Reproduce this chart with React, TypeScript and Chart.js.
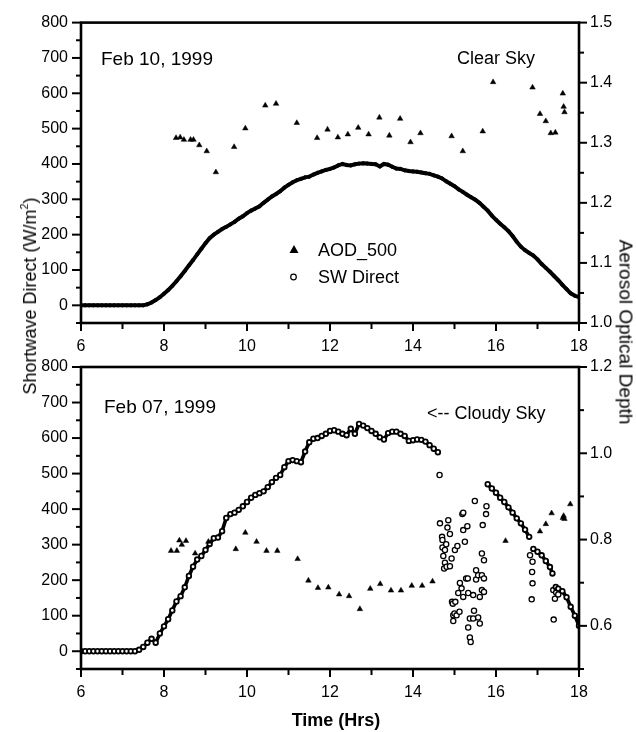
import React, { useEffect, useRef } from "react";
import { Chart, registerables } from "chart.js";

Chart.register(...registerables);

const FONT = "'Liberation Sans', Arial, Helvetica, sans-serif";

// ---------- Tick labels ----------
const hourLabels = [6, 8, 10, 12, 14, 16, 18];
const swLabels = [0, 100, 200, 300, 400, 500, 600, 700, 800];
const aodTopLabels = [1.0, 1.1, 1.2, 1.3, 1.4, 1.5];
const aodBottomLabels = [0.6, 0.8, 1.0, 1.2];

// ---------- Feb 10, 1999 (clear sky) ----------
const feb10GridStart = 6.0;
const feb10GridStep = 0.1;
const feb10SwDirect = [
  0, 0, 0, 0, 0, 0, 0, 0, 0, 0, 0, 0, 0, 0, 0, 0,
  3, 8, 15, 23,
  33, 43, 55, 68, 82, 97, 113, 128, 144, 160,
  176, 190, 200, 208, 216, 222, 229, 236, 245, 252,
  261, 268, 274, 280, 290, 299, 308, 315, 323, 333,
  341, 348, 354, 358, 362, 364, 370, 375, 379, 383,
  386, 390, 396, 400, 397, 396, 399, 401, 402, 401,
  400, 399, 393, 400, 398, 392, 387, 386, 382, 380,
  379, 378, 376, 374, 372, 368, 364, 359, 351, 344,
  337, 328, 321, 313, 306, 299, 290, 279, 268, 254,
  242, 231, 221, 210, 196, 180, 166, 156, 148, 141,
  130, 117, 106, 95, 83, 71, 58, 46, 34, 27,
  23,
];
const feb10Aod: [number, number][] = [
  [8.29, 1.308], [8.39, 1.309], [8.48, 1.305], [8.64, 1.305], [8.71, 1.305],
  [8.85, 1.296], [9.03, 1.286], [9.25, 1.251], [9.69, 1.293], [9.96, 1.324],
  [10.44, 1.362], [10.7, 1.365], [11.2, 1.333], [11.69, 1.308], [11.94, 1.322],
  [12.19, 1.309], [12.43, 1.314], [12.68, 1.325], [12.93, 1.314], [13.19, 1.342],
  [13.43, 1.312], [13.69, 1.34], [13.94, 1.301], [14.18, 1.316], [14.93, 1.311],
  [15.2, 1.286], [15.68, 1.319], [15.93, 1.401], [16.88, 1.392], [17.06, 1.348],
  [17.2, 1.336], [17.32, 1.316], [17.43, 1.317], [17.61, 1.382], [17.63, 1.36],
  [17.65, 1.351],
];

// ---------- Feb 07, 1999 (cloudy sky) ----------
const feb07GridStart = 6.0;
const feb07GridStep = 0.1;
const feb07SwMorning = [
  0, 0, 0, 0, 0, 0, 0, 0, 0, 0, 0, 0, 0, 0,
  4, 12, 24, 35, 24, 50,
  70, 90, 115, 140, 155, 180, 212, 238, 258, 268,
  285, 302, 318, 320, 338, 375, 386, 390, 398, 408,
  420, 432, 440, 445, 450, 462, 476, 488, 496, 518,
  535, 538, 535, 532, 562, 588, 598, 600, 606, 612,
  620, 622, 618, 612, 608, 626, 612, 640, 635, 628,
  620, 612, 602, 596, 614, 618, 618, 612, 606, 592,
  594, 596, 595, 590, 580, 570, 560,
];
const feb07SwAfternoonA: [number, number][] = [
  [15.8, 470], [15.9, 458], [16.0, 446], [16.1, 432], [16.2, 420], [16.3, 405],
  [16.4, 390], [16.5, 374], [16.6, 360], [16.7, 342], [16.8, 322],
];
const feb07SwAfternoonB: [number, number][] = [
  [16.9, 288], [17.0, 280], [17.1, 270], [17.2, 254], [17.3, 237], [17.36, 219],
];
const feb07SwAfternoonC: [number, number][] = [
  [17.44, 181], [17.5, 176], [17.6, 169], [17.7, 152], [17.8, 125], [17.9, 100], [18.0, 72],
];
const feb07SwScatter: [number, number][] = [
  [14.64, 496], [14.65, 360], [14.7, 322], [14.71, 313], [14.71, 292], [14.73, 268],
  [14.75, 233], [14.77, 285], [14.77, 249], [14.8, 301], [14.81, 238], [14.83, 348],
  [14.85, 369], [14.89, 330], [14.89, 239], [14.93, 261], [14.94, 139], [14.96, 134],
  [14.97, 101], [14.97, 85], [15.0, 106], [15.01, 285], [15.02, 139], [15.05, 101],
  [15.07, 296], [15.09, 164], [15.12, 111], [15.13, 192], [15.17, 177], [15.19, 386],
  [15.21, 390], [15.21, 341], [15.21, 153], [15.25, 308], [15.28, 205], [15.31, 352],
  [15.32, 205], [15.33, 164], [15.33, 67], [15.37, 92], [15.37, 39], [15.39, 26],
  [15.45, 158], [15.45, 92], [15.47, 114], [15.49, 423], [15.52, 228], [15.52, 202],
  [15.57, 214], [15.57, 95], [15.61, 153], [15.61, 78], [15.66, 275], [15.66, 214],
  [15.66, 172], [15.68, 355], [15.71, 256], [15.71, 205], [15.71, 167], [15.76, 386],
  [15.77, 408], [16.82, 270], [16.88, 252], [16.87, 223], [16.88, 191], [16.86, 146],
  [17.38, 172], [17.42, 148], [17.39, 89], [17.45, 165], [17.5, 160],
];
const feb07Aod: [number, number][] = [
  [8.17, 0.774], [8.31, 0.774], [8.37, 0.798], [8.43, 0.788], [8.53, 0.797],
  [8.75, 0.768], [9.07, 0.795], [9.73, 0.778], [9.96, 0.816], [10.23, 0.795],
  [10.47, 0.774], [10.73, 0.774], [11.22, 0.755], [11.48, 0.705], [11.71, 0.688],
  [11.96, 0.689], [12.22, 0.673], [12.46, 0.669], [12.72, 0.639], [12.97, 0.686],
  [13.21, 0.697], [13.47, 0.682], [13.71, 0.682], [13.97, 0.693], [14.22, 0.693],
  [14.47, 0.703], [16.23, 0.797], [17.06, 0.819], [17.2, 0.836], [17.34, 0.861],
  [17.61, 0.85], [17.63, 0.855], [17.65, 0.848], [17.79, 0.882],
];

// ---------- helpers ----------
const fromGrid = (start: number, step: number, values: number[]) =>
  values.map((v, i) => ({ x: Math.round((start + i * step) * 100) / 100, y: v }));
const fromPairs = (pairs: [number, number][]) => pairs.map(([x, y]) => ({ x, y }));

const has = (list: number[], v: number) => list.some((l) => Math.abs(l - v) < 1e-6);

const tickFont = { family: FONT, size: 16 };

// dense clear-sky record: reads as a solid thick line
const solidCurveDs = (data: { x: number; y: number }[]) => ({
  data,
  yAxisID: "y",
  showLine: true,
  borderColor: "#000",
  borderWidth: 4,
  pointRadius: 1.6,
  pointBorderWidth: 1,
  pointBorderColor: "#000",
  pointBackgroundColor: "#000",
  order: 2,
});
// dense cloudy-sky record: chain of small open circles
const ringCurveDs = (data: { x: number; y: number }[]) => ({
  data,
  yAxisID: "y",
  showLine: true,
  borderColor: "#000",
  borderWidth: 3.6,
  pointRadius: 2.3,
  pointBorderWidth: 1.8,
  pointBorderColor: "#000",
  pointBackgroundColor: "#fff",
  order: 2,
});
const scatterCircleDs = (data: { x: number; y: number }[]) => ({
  data,
  yAxisID: "y",
  showLine: false,
  pointRadius: 2.6,
  pointBorderWidth: 1.3,
  pointBorderColor: "#000",
  pointBackgroundColor: "#fff",
  order: 2,
});
const triangleDs = (data: { x: number; y: number }[]) => ({
  data,
  yAxisID: "y1",
  showLine: false,
  pointStyle: "triangle",
  pointRadius: 3.2,
  pointBorderWidth: 0.5,
  pointBorderColor: "#000",
  pointBackgroundColor: "#000",
  order: 1,
});

type TextItem = { text: string; x: number; y: number; size: number };

const makeDecor = (texts: TextItem[], legend: boolean) => ({
  id: "decor",
  afterDraw(chart: any) {
    const { ctx, chartArea: a } = chart;
    ctx.save();
    ctx.strokeStyle = "#000";
    ctx.lineWidth = 2.6;
    ctx.strokeRect(a.left, a.top, a.right - a.left, a.bottom - a.top);
    ctx.lineWidth = 2;
    const sx = chart.scales.x;
    sx.ticks.forEach((t: any) => {
      const p = sx.getPixelForValue(t.value);
      const len = has(hourLabels, t.value) ? 8 : 6;
      ctx.beginPath();
      ctx.moveTo(p, a.bottom);
      ctx.lineTo(p, a.bottom + len);
      ctx.stroke();
    });
    const sy = chart.scales.y;
    sy.ticks.forEach((t: any) => {
      const p = sy.getPixelForValue(t.value);
      const len = t.value % 100 === 0 ? 9 : 5;
      ctx.beginPath();
      ctx.moveTo(a.left, p);
      ctx.lineTo(a.left - len, p);
      ctx.stroke();
    });
    const sr = chart.scales.y1;
    const rLabels = sr.options.max > 1.3 ? aodTopLabels : aodBottomLabels;
    sr.ticks.forEach((t: any) => {
      const p = sr.getPixelForValue(t.value);
      const len = has(rLabels, t.value) ? 8 : 5;
      ctx.beginPath();
      ctx.moveTo(a.right, p);
      ctx.lineTo(a.right + len, p);
      ctx.stroke();
    });
    ctx.fillStyle = "#000";
    ctx.textBaseline = "middle";
    ctx.textAlign = "left";
    texts.forEach((t) => {
      ctx.font = `${t.size}px ${FONT}`;
      ctx.fillText(t.text, t.x, t.y);
    });
    if (legend) {
      ctx.beginPath();
      ctx.moveTo(294, 245);
      ctx.lineTo(298.5, 253);
      ctx.lineTo(289.5, 253);
      ctx.closePath();
      ctx.fill();
      ctx.lineWidth = 1.2;
      ctx.beginPath();
      ctx.arc(293.5, 277, 2.8, 0, Math.PI * 2);
      ctx.fillStyle = "#fff";
      ctx.fill();
      ctx.stroke();
      ctx.fillStyle = "#000";
      ctx.font = `18px ${FONT}`;
      ctx.fillText("AOD_500", 318, 251);
      ctx.fillText("SW Direct", 318, 278);
    }
    ctx.restore();
  },
});

const buildOptions = (
  padTop: number,
  xHeight: number,
  rMin: number,
  rMax: number,
  rStep: number,
  rLabels: number[]
) => ({
  responsive: false,
  animation: false,
  layout: { padding: { top: padTop, left: 0, right: 0, bottom: 0 } },
  plugins: { legend: { display: false }, tooltip: { enabled: false } },
  scales: {
    x: {
      type: "linear",
      min: 6,
      max: 18,
      afterFit: (s: any) => {
        s.height = xHeight;
      },
      grid: { display: false, drawTicks: false },
      border: { display: false },
      ticks: {
        stepSize: 1,
        autoSkip: false,
        maxRotation: 0,
        padding: 14,
        color: "#000",
        font: tickFont,
        callback: (v: number) => (has(hourLabels, v) ? String(v) : ""),
      },
    },
    y: {
      type: "linear",
      position: "left",
      min: -50,
      max: 800,
      afterFit: (s: any) => {
        s.width = 81;
      },
      grid: { display: false, drawTicks: false },
      border: { display: false },
      ticks: {
        stepSize: 50,
        autoSkip: false,
        padding: 13,
        color: "#000",
        font: tickFont,
        callback: (v: number) => (has(swLabels, v) ? String(v) : ""),
      },
    },
    y1: {
      type: "linear",
      position: "right",
      min: rMin,
      max: rMax,
      afterFit: (s: any) => {
        s.width = 57;
      },
      grid: { display: false, drawTicks: false },
      border: { display: false },
      ticks: {
        stepSize: rStep,
        autoSkip: false,
        padding: 11,
        color: "#000",
        font: tickFont,
        callback: (v: number) => (has(rLabels, v) ? v.toFixed(1) : ""),
      },
    },
  },
});

export default function App() {
  const topRef = useRef<HTMLCanvasElement>(null);
  const botRef = useRef<HTMLCanvasElement>(null);

  useEffect(() => {
    const top = new Chart(topRef.current as HTMLCanvasElement, {
      type: "scatter",
      data: {
        datasets: [
          triangleDs(fromPairs(feb10Aod)),
          solidCurveDs(fromGrid(feb10GridStart, feb10GridStep, feb10SwDirect)),
        ] as any,
      },
      options: buildOptions(22, 37, 1.0, 1.5, 0.05, aodTopLabels) as any,
      plugins: [
        makeDecor(
          [
            { text: "Feb 10, 1999", x: 101, y: 60, size: 19 },
            { text: "Clear Sky", x: 457, y: 59, size: 18 },
          ],
          true
        ),
      ],
    });
    const bot = new Chart(botRef.current as HTMLCanvasElement, {
      type: "scatter",
      data: {
        datasets: [
          triangleDs(fromPairs(feb07Aod)),
          ringCurveDs(fromGrid(feb07GridStart, feb07GridStep, feb07SwMorning)),
          ringCurveDs(fromPairs(feb07SwAfternoonA)),
          ringCurveDs(fromPairs(feb07SwAfternoonB)),
          ringCurveDs(fromPairs(feb07SwAfternoonC)),
          scatterCircleDs(fromPairs(feb07SwScatter)),
        ] as any,
      },
      options: buildOptions(27, 63, 0.5, 1.2, 0.1, aodBottomLabels) as any,
      plugins: [
        makeDecor(
          [
            { text: "Feb 07, 1999", x: 104, y: 68, size: 19 },
            { text: "<-- Cloudy Sky", x: 427, y: 74, size: 18 },
          ],
          false
        ),
      ],
    });
    return () => {
      top.destroy();
      bot.destroy();
    };
  }, []);

  const titleBase: React.CSSProperties = {
    position: "absolute",
    fontFamily: FONT,
    color: "#000",
    whiteSpace: "nowrap",
    lineHeight: 1,
  };

  return (
    <div
      style={{
        position: "fixed",
        left: 0,
        top: 0,
        width: 636,
        height: 732,
        background: "#fff",
        overflow: "hidden",
      }}
    >
      <canvas
        ref={topRef}
        width={636}
        height={360}
        style={{ position: "absolute", left: 0, top: 0 }}
      />
      <canvas
        ref={botRef}
        width={636}
        height={392}
        style={{ position: "absolute", left: 0, top: 340 }}
      />
      <div
        style={{
          ...titleBase,
          left: 30,
          top: 296,
          fontSize: 18,
          transform: "translate(-50%, -50%) rotate(-90deg)",
        }}
      >
        Shortwave Direct (W/m
        <sup style={{ fontSize: "0.6em", verticalAlign: "0.7em", lineHeight: 0 }}>2</sup>)
      </div>
      <div
        style={{
          ...titleBase,
          left: 626,
          top: 332,
          fontSize: 19,
          transform: "translate(-50%, -50%) rotate(90deg)",
        }}
      >
        Aerosol Optical Depth
      </div>
      <div
        style={{
          ...titleBase,
          left: 336,
          top: 720,
          fontSize: 18,
          fontWeight: "bold",
          transform: "translate(-50%, -50%)",
        }}
      >
        Time (Hrs)
      </div>
    </div>
  );
}
